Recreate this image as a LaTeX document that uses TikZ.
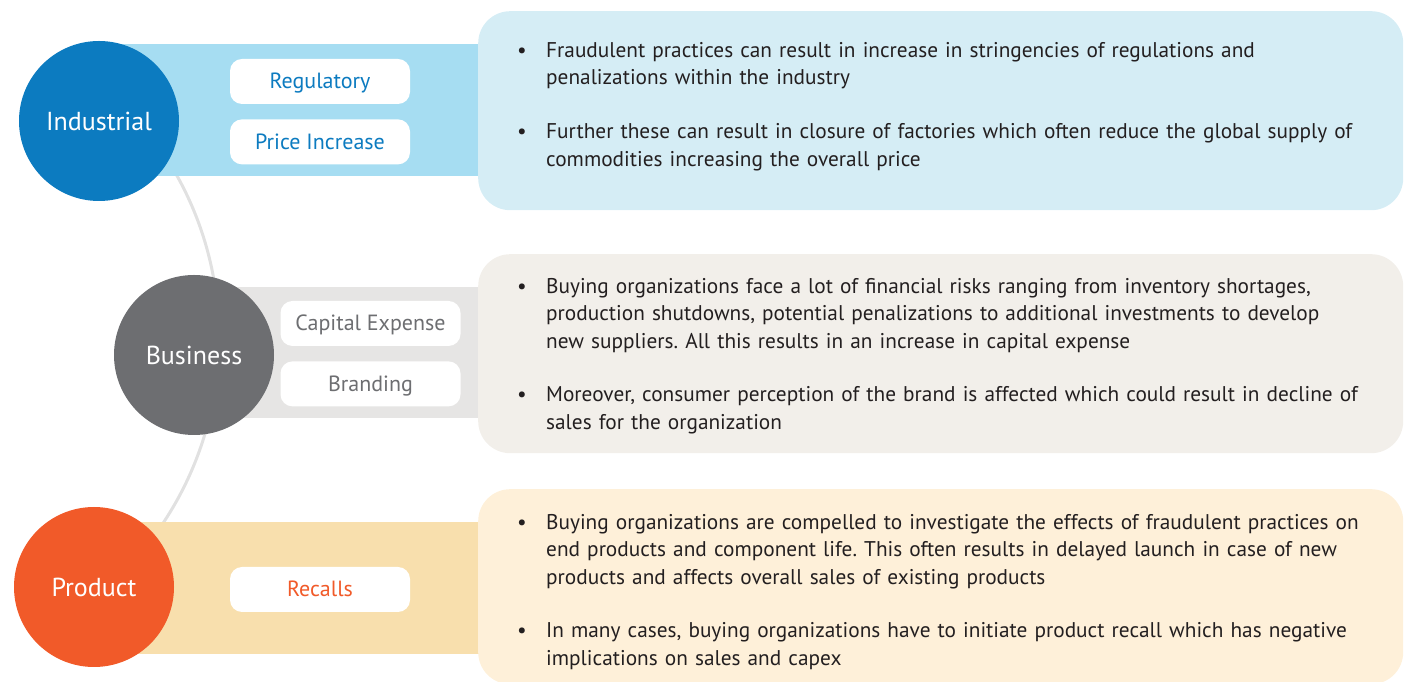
\documentclass[tikz,border=0pt]{standalone}
\usepackage{fontspec}
\setmainfont{PT Sans}
\newfontfamily\bodyfont{PT Sans}
\usepackage{tikz}
\usetikzlibrary{calc,positioning}
\frenchspacing

\definecolor{indblue}{HTML}{0C7BC0}
\definecolor{indband}{HTML}{A6DDF2}
\definecolor{indbox}{HTML}{D5EDF5}
\definecolor{busgrey}{HTML}{6D6E71}
\definecolor{busband}{HTML}{E6E5E4}
\definecolor{busbox}{HTML}{F2EFEA}
\definecolor{prodorange}{HTML}{F15A29}
\definecolor{prodband}{HTML}{F8DFAD}
\definecolor{prodbox}{HTML}{FEF0D9}
\definecolor{arcgrey}{HTML}{E1E1E1}
\definecolor{bodytext}{HTML}{231F20}

\tikzset{%
	hub/.style     = {circle, minimum size=160pt, inner sep=0pt, text=white, font=\fontsize{26}{30}\selectfont}, % big disc
	tag/.style     = {fill=white, rounded corners=12pt, minimum width=180pt, minimum height=45pt, inner sep=0pt, text height=18pt, text depth=3pt, font=\fontsize{22}{26}\selectfont},
	panel/.style   = {rounded corners=32pt, minimum width=925pt, minimum height=199pt, anchor=north west, inner sep=0pt},
	bullets/.style = {anchor=north west, text width=900pt, align=left, inner sep=0pt, text=bodytext, font=\bodyfont\fontsize{21.3}{27.7}\selectfont\frenchspacing},
	link/.style    = {draw=arcgrey, line width=3pt},
}
\newcommand{\bitem}[1]{\hangindent=29pt\hangafter=1\noindent\makebox[29pt][l]{\textbullet}#1\par}

\begin{document}
\begin{tikzpicture}[x=1pt,y=1pt]
	\useasboundingbox (0,0) rectangle (1405,682);
	
	\coordinate (hubc) at (-115,344);
	\draw[link] (hubc) ++(40:334) arc[start angle=40,end angle=-48,radius=334];
	
	% bands behind the discs
	\fill[indband] (99,506) rectangle (490,638);
	\fill[busband] (194,264) rectangle (490,395);
	\fill[prodband] (94,28) rectangle (490,160);
	
	\node[hub, fill=indblue] (ind) at (99,561) {Industrial};
	\node[hub, fill=busgrey] (bus) at (194,327) {Business};
	\node[hub, fill=prodorange] (prod) at (94,95) {Product};
	
	\node[panel, fill=indbox] (indpanel) at (478,671) {};
	\node[panel, fill=busbox] (buspanel) at (478,428) {};
	\node[panel, fill=prodbox, minimum height=195pt] (prodpanel) at (478,193) {};
	
	\node[tag, text=indblue] (reg) at (320,600.5) {Regulatory};
	\node[tag, text=indblue, below=15pt of reg] (price) {Price Increase};
	\node[tag, text=busgrey] (capex) at (370.5,358.5) {Capital Expense};
	\node[tag, text=busgrey, below=15pt of capex] (brand) {Branding};
	\node[tag, text=prodorange] (recall) at (320,92.5) {Recalls};
	
	\node[bullets] (indtext) at ($(indpanel.north west)+(39,-31)$) {%
		\bitem{Fraudulent practices can result in increase in stringencies of regulations and\newline penalizations within the industry}
		\vspace{26pt}
		\bitem{Further these can result in closure of factories which often reduce the global supply of\newline commodities increasing the overall price}};
	\node[bullets] (bustext) at ($(buspanel.north west)+(39,-24)$) {%
		\bitem{Buying organizations face a lot of financial risks ranging from inventory shortages,\newline production shutdowns, potential penalizations to additional investments to develop\newline new suppliers. All this results in an increase in capital expense}
		\vspace{25pt}
		\bitem{Moreover, consumer perception of the brand is affected which could result in decline of\newline sales for the organization}};
	\node[bullets] (prodtext) at ($(prodpanel.north west)+(39,-25)$) {%
		\bitem{Buying organizations are compelled to investigate the effects of fraudulent practices on\newline end products and component life. This often results in delayed launch in case of new\newline products and affects overall sales of existing products}
		\vspace{25pt}
		\bitem{In many cases, buying organizations have to initiate product recall which has negative\newline implications on sales and capex}};
\end{tikzpicture}
\end{document}
